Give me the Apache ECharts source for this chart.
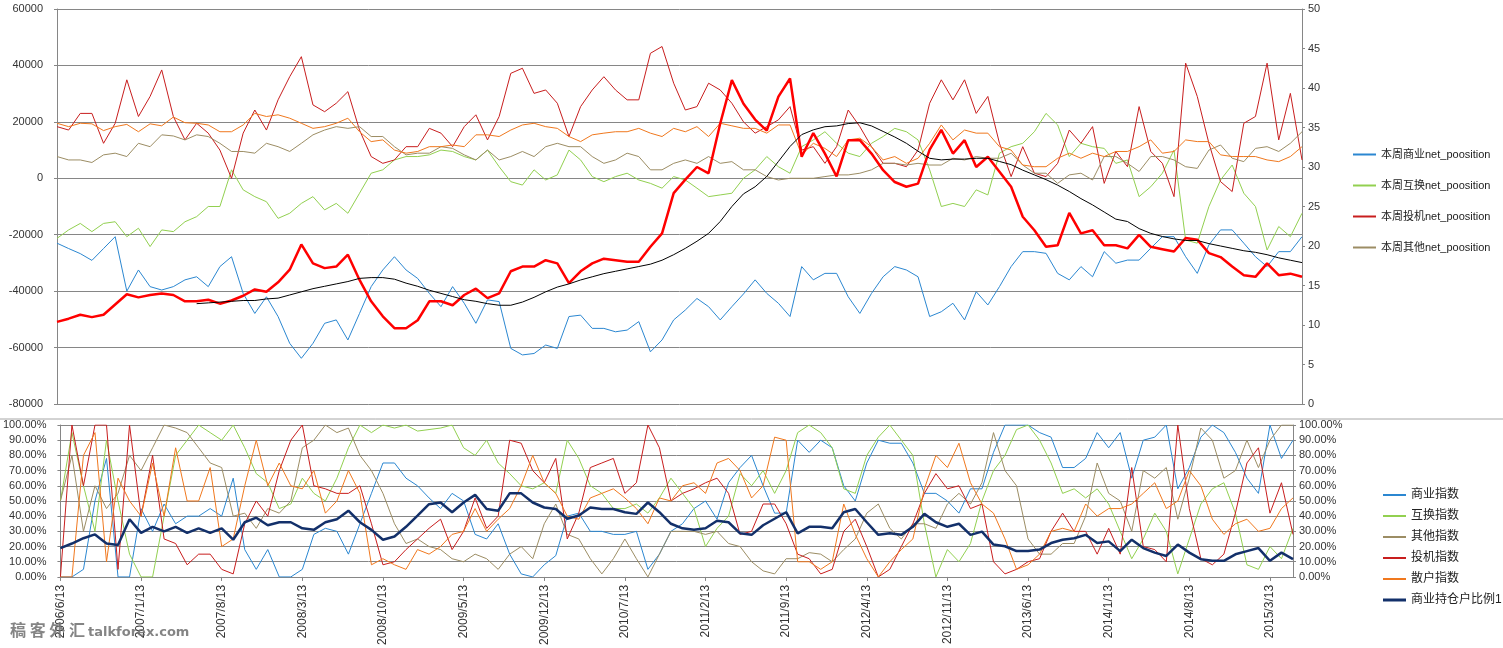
<!DOCTYPE html>
<html><head><meta charset="utf-8">
<script src="https://cdn.jsdelivr.net/npm/echarts@6/dist/echarts.min.js"></script>
<style>html,body{margin:0;padding:0;background:#fff}#c{width:1503px;height:648px}</style>
</head><body><div id="c"></div>
<script>
// Monthly categories (x axis)
const months = [
'2006/6/13','2006/7/13','2006/8/13','2006/9/13','2006/10/13','2006/11/13','2006/12/13',
'2007/1/13','2007/2/13','2007/3/13','2007/4/13','2007/5/13','2007/6/13','2007/7/13','2007/8/13','2007/9/13','2007/10/13','2007/11/13','2007/12/13',
'2008/1/13','2008/2/13','2008/3/13','2008/4/13','2008/5/13','2008/6/13','2008/7/13','2008/8/13','2008/9/13','2008/10/13','2008/11/13','2008/12/13',
'2009/1/13','2009/2/13','2009/3/13','2009/4/13','2009/5/13','2009/6/13','2009/7/13','2009/8/13','2009/9/13','2009/10/13','2009/11/13','2009/12/13',
'2010/1/13','2010/2/13','2010/3/13','2010/4/13','2010/5/13','2010/6/13','2010/7/13','2010/8/13','2010/9/13','2010/10/13','2010/11/13','2010/12/13',
'2011/1/13','2011/2/13','2011/3/13','2011/4/13','2011/5/13','2011/6/13','2011/7/13','2011/8/13','2011/9/13','2011/10/13','2011/11/13','2011/12/13',
'2012/1/13','2012/2/13','2012/3/13','2012/4/13','2012/5/13','2012/6/13','2012/7/13','2012/8/13','2012/9/13','2012/10/13','2012/11/13','2012/12/13',
'2013/1/13','2013/2/13','2013/3/13','2013/4/13','2013/5/13','2013/6/13','2013/7/13','2013/8/13','2013/9/13','2013/10/13','2013/11/13','2013/12/13',
'2014/1/13','2014/2/13','2014/3/13','2014/4/13','2014/5/13','2014/6/13','2014/7/13','2014/8/13','2014/9/13','2014/10/13','2014/11/13','2014/12/13',
'2015/1/13','2015/2/13','2015/3/13','2015/4/13','2015/5/13'];

// Top chart: net positions (left axis)
const commNet = [-23000,-24900,-26700,-29100,-24900,-20700,-40000,-32500,-38400,-39600,
-38400,-36000,-34900,-38400,-31300,-27800,-40800,-47900,-42000,-49000,
-58500,-63800,-58500,-51400,-50200,-57300,-47900,-38400,-32500,-27800,
-32500,-35500,-40800,-45500,-38400,-44300,-51400,-43100,-43700,-60300,
-62600,-62100,-59100,-60300,-49000,-48500,-53200,-53200,-54400,-53800,
-50800,-61500,-57300,-50200,-46700,-42600,-45500,-50200,-45500,-41000,
-36000,-40800,-44300,-49000,-31300,-36000,-33700,-33700,-42000,-47900,
-40800,-34900,-31300,-32500,-34900,-49000,-47300,-44300,-50200,-40200,
-44900,-38400,-31300,-26000,-26000,-26600,-33700,-36000,-31300,-34900,
-26000,-30100,-29000,-29000,-24800,-20700,-20700,-27800,-33700,-23600,
-18300,-18300,-23000,-27800,-31300,-26000,-26000,-20700];
const swapNet = [-21300,-18300,-16000,-18900,-16000,-15400,-20700,-17700,-24200,-18300,
-18900,-15400,-13600,-10000,-10000,3000,-4100,-6500,-8300,-14200,
-12400,-8900,-6500,-11200,-8900,-12400,-5300,1800,3000,6500,
7700,7700,8300,10000,9500,7700,6500,10000,4100,-1200,
-2400,3000,-600,1200,10000,6500,600,-1200,600,1800,
-600,-1800,-3500,600,-600,-3500,-6500,-5900,-5300,0,
3000,7700,4100,1800,11200,13600,16500,12400,8900,7700,
12400,14800,17700,16500,13600,3000,-10000,-8900,-10000,-4100,
-5900,8900,11200,12400,16500,23000,18900,7700,12400,11200,
10600,5300,6500,-6500,-3000,1800,10000,-21900,-23000,-10000,
-600,4700,-5300,-10000,-25400,-17100,-20700,-12400];
const specNet = [18300,17100,23000,23000,12400,19500,34900,21900,29000,38400,
21900,13600,19500,16000,10000,0,16000,24200,17100,27800,
36000,43100,26000,23600,26600,30700,17100,7700,5300,6500,
11200,11200,17700,16000,11200,18300,22500,13600,21900,37200,
39000,30100,31300,26600,14800,25400,31300,36000,31300,27800,
27800,44300,46700,33700,24200,25400,33700,31300,26600,20000,
16000,18300,20700,25400,10000,11200,5300,11200,24200,18300,
11200,5300,5300,4100,10000,26600,34900,27800,34900,23000,
29000,12400,600,11200,1800,600,5300,17100,12400,18300,
-1800,9500,4100,25400,9500,5300,-6500,40800,29000,12400,
-1200,-4700,19500,21900,40800,13600,30100,6500];
const otherNet = [7700,6500,6500,5600,8300,8900,7700,12400,11200,15400,
15000,13600,15400,14800,12400,9500,9500,8900,12400,11200,
9500,12400,15400,17100,18300,17700,18300,14800,14800,11200,
8300,8900,8900,11200,10600,8300,6500,10000,6500,7700,
9500,7700,11200,12400,11200,11200,7700,5300,6500,8900,
7700,3000,3000,5300,6500,5300,7700,5300,5900,3000,
3000,600,-600,0,0,0,600,1200,1200,1800,
3000,5300,5300,4700,5300,4700,4700,7100,6500,7700,
7100,7100,8900,4700,1800,1800,-1800,1200,1800,-600,
7700,7700,5300,2400,7700,7700,6500,4100,3500,10000,
11800,7100,5900,10600,11200,9500,12400,16500];
const retailNet = [19500,18300,19500,19300,16900,18300,19100,16500,19300,18600,
21700,19700,19500,18900,16500,16500,18900,23000,21900,22500,
21300,19500,17700,18300,19500,21300,16500,13000,13600,10000,
8900,9500,11200,11200,11800,11200,15400,15400,14800,17100,
18900,19500,18300,17700,14800,13000,15400,16000,16500,16500,
17700,16000,14800,17700,16500,18300,14800,19500,18600,17700,
17700,16000,18900,18900,8300,12400,10600,7700,13600,14200,
11200,6500,7700,5300,7100,12400,18900,13600,17100,16000,
16000,11200,10000,4700,4100,4100,7100,8900,7100,8900,
7700,9500,9500,11200,13600,8900,9500,13600,13000,13000,
8300,7700,7700,7700,6500,5900,7700,11200];
// Top chart: price and its moving average (right axis)
const price = [10.4,10.8,11.3,11.0,11.3,12.6,13.9,13.5,13.8,14.0,
13.8,13.0,13.0,13.2,12.7,13.1,13.7,14.5,14.2,15.4,
17.0,20.2,17.8,17.2,17.4,18.9,15.7,13.0,11.1,9.6,
9.6,10.6,13.0,13.0,12.5,13.8,14.6,13.4,14.0,16.8,
17.4,17.4,18.2,17.8,15.3,16.8,17.8,18.4,18.2,18.0,
18.0,19.9,21.6,26.7,28.4,30.0,29.2,35.5,41.0,38.0,
36.0,34.6,38.9,41.2,31.3,34.3,31.7,28.8,33.4,33.4,
31.7,29.6,28.1,27.5,27.9,32.2,34.7,31.7,33.4,30.0,
31.3,29.4,27.5,23.7,22.0,19.9,20.1,24.2,21.6,22.0,
20.1,20.1,19.7,21.4,19.9,19.6,19.3,21.0,20.8,19.1,
18.6,17.4,16.3,16.1,17.8,16.3,16.5,16.1];
const priceMA = [null,null,null,null,null,null,null,null,null,null,
null,null,12.7,12.8,12.9,13.0,13.1,13.1,13.3,13.4,
13.8,14.2,14.6,14.9,15.2,15.5,15.9,16.0,16.0,15.8,
15.3,14.9,14.4,14.0,13.6,13.2,13.0,12.7,12.5,12.5,
12.9,13.5,14.2,14.8,15.2,15.7,16.1,16.5,16.8,17.1,
17.4,17.7,18.2,18.9,19.7,20.6,21.6,23.1,25.0,26.6,
27.5,28.8,30.7,32.6,34.1,34.7,35.1,35.2,35.5,35.6,
35.2,34.5,33.8,33.0,32.0,31.1,30.9,31.0,31.0,31.1,
31.1,30.7,30.3,29.6,29.0,28.4,27.7,26.9,26.0,25.2,
24.3,23.4,23.1,22.2,21.6,21.2,20.9,20.7,20.7,20.3,
20.0,19.7,19.4,19.2,18.9,18.5,18.2,17.9];

// Bottom chart: indices (%)
const commIdx = [0,0,5,50,78,0,0,45,30,48,
35,40,40,45,40,65,18,5,18,0,
0,5,28,32,30,15,35,55,75,75,
65,60,52,45,55,50,28,25,35,15,
2,0,8,14,40,42,30,30,28,28,
30,5,15,30,35,45,50,38,62,72,
80,60,42,42,90,82,90,85,60,50,
75,90,88,88,75,55,55,50,42,58,
58,82,100,100,100,95,92,72,72,78,
95,85,95,65,90,92,100,58,72,92,
100,95,82,65,55,100,78,90];
const swapIdx = [50,95,60,30,90,50,15,0,0,40,
80,90,100,95,90,100,85,68,62,45,
48,65,55,50,65,85,100,95,100,98,
100,96,97,98,100,85,80,90,75,68,
60,58,62,55,90,78,60,55,45,45,
48,42,52,65,55,45,20,32,40,68,
60,70,55,70,95,100,95,85,58,55,
80,92,100,90,80,35,0,18,10,22,
50,70,80,97,100,90,75,55,58,52,
58,48,30,12,25,42,30,2,25,48,
58,62,42,8,5,20,12,32];
const otherIdx = [50,80,30,60,45,55,80,70,85,100,
98,95,85,75,72,40,42,32,45,42,
50,85,90,100,95,98,80,70,55,35,
22,25,20,18,12,10,15,12,5,15,
20,12,35,48,28,25,12,2,12,25,
12,0,15,30,30,30,28,30,22,20,
10,4,2,12,12,16,15,10,18,25,
42,48,32,25,35,35,32,48,55,48,
62,95,70,60,25,15,15,22,22,40,
75,55,50,30,70,65,72,38,65,98,
90,65,70,90,72,90,100,100];
const specIdx = [0,100,60,100,100,5,100,40,80,25,
22,8,15,15,5,2,35,50,40,70,
90,100,60,58,55,55,60,35,8,10,
18,25,32,38,18,30,52,32,40,90,
88,70,62,78,25,42,72,75,78,55,
62,100,85,50,55,58,62,65,55,28,
30,48,48,35,15,12,2,5,30,38,
20,0,5,20,35,55,68,58,60,45,
48,10,2,5,10,12,30,42,30,30,
15,32,15,72,20,18,10,100,45,12,
8,15,42,75,85,42,62,28];
const retailIdx = [0,0,80,95,10,65,50,40,75,40,
85,50,50,72,20,25,60,90,60,75,
60,58,70,42,50,70,55,8,12,8,
5,18,15,20,28,30,45,30,38,45,
60,80,62,55,40,38,52,55,58,52,
45,35,52,50,60,62,55,75,78,70,
52,60,92,90,10,10,5,10,48,28,
12,0,10,18,25,58,80,72,88,62,
48,42,25,5,8,15,30,32,30,48,
40,45,45,48,55,62,45,50,70,60,
38,28,35,38,30,32,45,52];
const commHolderRatio = [19,22,25.5,28,22,21,38,29,33,30,
33,29,32,29,32,24.5,36,39,34,36,
36,32,31,36,38,43.6,36,31,24.5,26.6,
33,40.4,47.9,49,42.6,49,54,44.7,43.6,55,
55,49,45.7,44.7,38.3,40.4,45.7,44.7,44.7,42.6,
41.5,49,42.6,35,32,31,32,37,36,28.7,
27.7,34,38.3,42.6,28.7,33,33,32,42.6,44.7,
36,27.7,28.7,27.7,33,41.5,36,33,35,27.7,
29.8,21.3,20.2,17,17,18,22.3,24.5,25.5,27.7,
22.3,23.4,17,24.5,19,16,13.8,21.3,16,11.7,
10.6,10.6,14.9,17,19,10.6,16,11.7];

const topNames = ['本周商业net_poosition','本周互换net_poosition','本周投机net_poosition','本周其他net_poosition'];
const botNames = ['商业指数','互换指数','其他指数','投机指数','散户指数','商业持仓户比例1'];

const C = {blue:'#2b87d1', green:'#92d050', dred:'#c81e1e', brown:'#9c8d64', orange:'#f0781e', red:'#ff0000', black:'#000000', navy:'#13306a'};
const gridColor = '#868686';
const FONT = '"Liberation Sans", "Noto Sans CJK SC", sans-serif';

function line(name, data, color, width, xi, yi, z) {
  return {name:name, type:'line', data:data, xAxisIndex:xi, yAxisIndex:yi, symbol:'none', showSymbol:false,
    lineStyle:{color:color, width:width}, itemStyle:{color:color}, z:z, silent:true};
}
const axisBase = {axisLine:{show:true, lineStyle:{color:gridColor}}, axisTick:{show:true, length:3, lineStyle:{color:gridColor}}};
const pct = function(v){return v.toFixed(2)+'%';};

const chart = echarts.init(document.getElementById('c'));
chart.setOption({
  animation:false,
  backgroundColor:'#fff',
  grid:[{left:57, right:201, top:9, height:395}, {left:55, right:210, top:425, height:157}],
  xAxis:[
    {gridIndex:0, type:'category', data:months, boundaryGap:false,
     axisLine:{lineStyle:{color:gridColor}}, axisTick:{show:false}, axisLabel:{show:false}, splitLine:{show:false}},
    {gridIndex:1, type:'category', data:months, boundaryGap:false,
     axisLine:{lineStyle:{color:gridColor}}, axisTick:{show:true, interval:6, length:4, lineStyle:{color:gridColor}},
     axisLabel:{interval:6, rotate:90, fontSize:12, color:'#333', margin:8, fontFamily:FONT}, splitLine:{show:false}}
  ],
  yAxis:[
    Object.assign({gridIndex:0, type:'value', min:-80000, max:60000, interval:20000,
      axisLabel:{fontSize:11, color:'#333', margin:14, fontFamily:FONT, formatter:function(v){return String(v);}},
      splitLine:{show:true, lineStyle:{color:gridColor}}}, axisBase),
    Object.assign({gridIndex:0, type:'value', position:'right', min:0, max:50, interval:5,
      axisLabel:{fontSize:11, color:'#333', margin:6, fontFamily:FONT, formatter:function(v){return String(v);}}, splitLine:{show:false}}, axisBase),
    Object.assign({gridIndex:1, type:'value', min:0, max:100, interval:10,
      axisLabel:{fontSize:11, color:'#333', margin:14, fontFamily:FONT, formatter:pct},
      splitLine:{show:true, lineStyle:{color:gridColor}}}, axisBase),
    Object.assign({gridIndex:1, type:'value', position:'right', min:0, max:100, interval:10,
      axisLabel:{fontSize:11, color:'#333', margin:6, fontFamily:FONT, formatter:pct},
      splitLine:{show:false}}, axisBase)
  ],
  legend:[
    {data:topNames, orient:'vertical', left:1348, top:144, icon:'rect', itemWidth:23, itemHeight:2, itemGap:20,
     textStyle:{fontSize:11, color:'#222', fontFamily:FONT}, selectedMode:false},
    {data:botNames.slice(0,5), orient:'vertical', left:1378, top:484, icon:'rect', itemWidth:23, itemHeight:2, itemGap:9,
     textStyle:{fontSize:12, color:'#222', fontFamily:FONT}, selectedMode:false},
    {data:botNames.slice(5), orient:'vertical', left:1378, top:589, icon:'rect', itemWidth:23, itemHeight:3, itemGap:9,
     textStyle:{fontSize:12, color:'#222', fontFamily:FONT}, selectedMode:false}
  ],
  graphic:[
    {type:'line', shape:{x1:0, y1:419, x2:1503, y2:419}, style:{stroke:'#a6a6a6', lineWidth:1}, silent:true},
    {type:'text', left:10, top:622, style:{text:'稿 客 外 汇', font:'bold 16px "Noto Sans CJK SC"', fill:'rgba(110,110,110,0.85)'}, silent:true, z:100},
    {type:'text', left:88, top:626, style:{text:'talkforex.com', font:'bold 13px "DejaVu Sans"', fill:'rgba(110,110,110,0.85)'}, silent:true, z:100}
  ],
  series:[
    line(topNames[0], commNet, C.blue, 1, 0, 0, 2),
    line(topNames[1], swapNet, C.green, 1, 0, 0, 2),
    line(topNames[2], specNet, C.dred, 1, 0, 0, 2),
    line(topNames[3], otherNet, C.brown, 1, 0, 0, 2),
    line('散户net_poosition', retailNet, C.orange, 1, 0, 0, 2),
    line('价格', price, C.red, 2.5, 0, 1, 3),
    line('均线', priceMA, C.black, 1, 0, 1, 4),
    line(botNames[0], commIdx, C.blue, 1, 1, 2, 2),
    line(botNames[1], swapIdx, C.green, 1, 1, 2, 2),
    line(botNames[2], otherIdx, C.brown, 1, 1, 2, 2),
    line(botNames[3], specIdx, C.dred, 1, 1, 2, 2),
    line(botNames[4], retailIdx, C.orange, 1, 1, 2, 2),
    line(botNames[5], commHolderRatio, C.navy, 2.5, 1, 2, 4)
  ]
});
</script></body></html>
